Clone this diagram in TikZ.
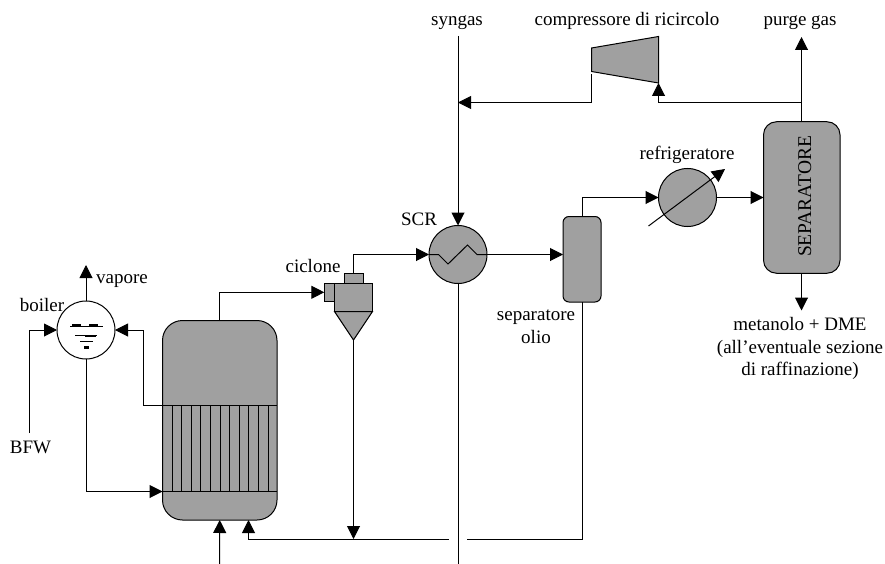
\documentclass[tikz,border=0pt]{standalone}
\usepackage{fontspec}
\setmainfont{Liberation Serif}
\usepackage{xcolor}
\usepackage{tikz}
\usetikzlibrary{arrows.meta,shapes.geometric}
\definecolor{unitgray}{HTML}{A0A0A0}
\tikzset{
  vessel/.style ={draw, rectangle, fill=unitgray, line width=1pt, outer sep=0pt, inner sep=0pt},
  drum/.style   ={draw, circle, fill=unitgray, line width=1pt, outer sep=0pt, inner sep=0pt, minimum size=58pt},
  lbl/.style    ={font=\fontsize{19}{22.9}\selectfont, align=center, inner sep=0pt},
  pipe/.style   ={draw, line width=1pt},
  arr/.style    ={-{Triangle[length=13pt,width=13pt]}, line width=1pt},
}
\begin{document}
\begin{tikzpicture}[x=1pt, y=-1pt]
  \useasboundingbox (0,0) rectangle (885,564);

  % reactor
  \node[vessel, rounded corners=20pt, minimum width=114.5pt, minimum height=199.5pt] (reactor) at (219.75,420.25) {};
  \coordinate (tubetop) at (143.5,405.5);
  \coordinate (tubebot) at (86,491.5);
  \foreach \tx in {172,181.6,191.2,200.8,210.4,220,229.6,239.2,248.8,258.4,268}
    \draw[pipe] (\tx,405.5) -- (\tx,491.5);
  \draw[pipe] (tubetop) -- (tubetop -| reactor.east);
  \draw[pipe] (tubebot -| reactor.west) -- (tubebot -| reactor.east);

  % boiler
  \node[drum, fill=white] (boiler) at (86,330) {};
  \draw[line width=1pt] (70,326) -- (102.7,326);
  \draw[line width=1pt] (75,335) -- (97.3,335);
  \draw[line width=1pt] (80,341) -- (92.5,341);
  \fill (72,324.3) rectangle (81,326);
  \fill (89,324.3) rectangle (98,326);
  \fill (85,335) rectangle (96,337.2);
  \fill (83.5,346) rectangle (89,349);

  % cyclone
  \node[vessel, minimum width=38pt, minimum height=28.2pt] (cycbody) at (353.5,297.4) {};
  \node[vessel, minimum width=10.2pt, minimum height=18pt] (cycin) at (329.4,292.3) {};
  \node[vessel, minimum width=19pt, minimum height=9.8pt] (cyccap) at (353.5,278.4) {};
  \coordinate (cyctip) at (353.5,340);
  \draw[pipe, fill=unitgray] (cycbody.south west) -- (cycbody.south east) -- (cyctip) -- cycle;

  % scr exchanger
  \node[drum] (scr) at (458,254.5) {};
  \draw[line width=1pt] (scr.west) -- (438.5,254.5) -- (448,264) -- (467.5,245) -- (477,254.5) -- (scr.east);

  % oil separator, cooler, separator
  \node[vessel, rounded corners=6pt, minimum width=38pt, minimum height=85.5pt] (sepolio) at (582,259.25) {};
  \node[drum] (refrig) at (687.5,197.5) {};
  \coordinate (refa) at (648.5,226);
  \coordinate (refb) at (725,169);
  \draw[arr] (refa) -- (refb);
  \node[vessel, rounded corners=13pt, minimum width=76.5pt, minimum height=151.5pt] (separatore) at (801.75,197.5) {};
  \node[lbl, font=\fontsize{19.5}{22.9}\selectfont, rotate=90, anchor=base] (sepname) at (811,196.3) {SEPARATORE};

  % compressor
  \coordinate (cmpin) at (591.5,71.5);
  \coordinate (cmpout) at (658.5,83);
  \draw[pipe, fill=unitgray] (591.5,48) -- (658.5,36.5) -- (cmpout) -- (cmpin) -- cycle;

  % labels
  \node[lbl, anchor=base] (tsyngas) at (457,26) {syngas};
  \node[lbl, anchor=base] (tcomp) at (627,26) {compressore di ricircolo};
  \node[lbl, anchor=base] (tpurge) at (800,26) {purge gas};
  \node[lbl, anchor=base] (trefrig) at (687,159.5) {refrigeratore};
  \node[lbl, anchor=base] (tscr) at (419,225.7) {SCR};
  \node[lbl, anchor=base] (tcyc) at (313,272.7) {ciclone};
  \node[lbl] (tolio) at (536,326.5) {separatore\\olio};
  \node[lbl] (tprod) at (800,348.5) {metanolo + DME\\(all’eventuale sezione\\di raffinazione)};
  \node[lbl, anchor=base] (tvap) at (122,283.3) {vapore};
  \node[lbl, anchor=base] (tboil) at (42,311) {boiler};
  \node[lbl, anchor=base] (tbfw) at (30.5,453.3) {BFW};

  % free ends and bends
  \coordinate (synin) at (458,36);
  \coordinate (synjoin) at (458,102.5);
  \coordinate (cmpdrop) at (591.5,74);
  \coordinate (purgetop) at (801.5,37);
  \coordinate (purgetee) at (801.5,102.5);
  \coordinate (prodout) at (801.5,310.5);
  \coordinate (scrout) at (458,564);
  \coordinate (gapright) at (467.3,539);
  \coordinate (gapleft) at (448.7,539);
  \coordinate (recycle) at (248.5,539);
  \coordinate (recyin) at (248.5,520);
  \coordinate (cycjoin) at (353.5,539);
  \coordinate (feedin) at (219.5,564);
  \coordinate (vapout) at (86,265);
  \coordinate (bfwin) at (29,433);

  % connectors
  \draw[arr] (synin) -- (scr.north);
  \draw[arr] (cmpdrop) |- (synjoin);
  \draw[arr] (separatore.north -| purgetop) -- (purgetop);
  \draw[arr] (purgetee) -| (cmpout);
  \draw[arr] (separatore.south -| prodout) -- (prodout);
  \draw[arr] (refrig.east) -- (separatore.west |- refrig.east);
  \draw[arr] (sepolio.north) |- (refrig.west);
  \draw[arr] (scr.east) -- (sepolio.west |- scr.east);
  \draw[arr] (cyccap.north) |- (scr.west);
  \draw[pipe] (scr.south) -- (scrout);
  \draw[pipe] (sepolio.south) |- (gapright);
  \draw[arr] (gapleft) -- (recycle) -- (recyin);
  \draw[arr] (cyctip) -- (cycjoin);
  \draw[arr] (feedin) -- (reactor.south);
  \draw[arr] (reactor.north) |- (cycin.west);
  \draw[arr] (boiler.north) -- (vapout);
  \draw[arr] (bfwin) |- (boiler.west);
  \draw[arr] (tubetop) |- (boiler.east);
  \draw[arr] (boiler.south) |- (tubebot -| reactor.west);
\end{tikzpicture}
\end{document}
